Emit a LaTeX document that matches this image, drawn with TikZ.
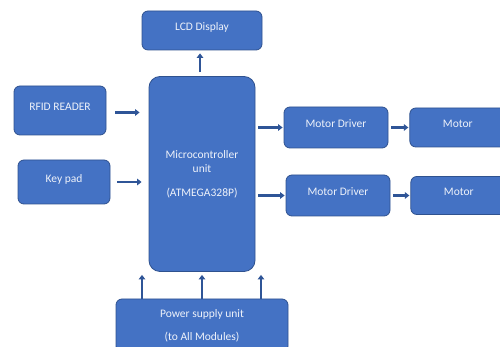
\documentclass[tikz,border=0pt]{standalone}
\usepackage{fontspec}
\setmainfont{Carlito}
\usepackage{xcolor}
\usepackage{tikz}
\usetikzlibrary{arrows.meta,positioning}
\definecolor{boxblue}{HTML}{4472C4}
\definecolor{edgeblue}{HTML}{2F528F}
\definecolor{linkblue}{HTML}{2F5597}
\definecolor{txtwhite}{HTML}{EEF2FA}

\begin{document}
\begin{tikzpicture}[x=1pt, y=1pt, >={Triangle[length=4.5pt,width=6.5pt]},
  block/.style={draw=edgeblue, line width=0.8pt, fill=boxblue, rounded corners=6pt,
    text=txtwhite, font=\fontsize{11.5}{14}\selectfont, align=center, inner sep=0pt},
  oneline/.style={block, text height=8pt, text depth=7pt},
  link/.style={->, draw=linkblue, line width=2.8pt}]
  \useasboundingbox (0,0) rectangle (500,347);
  \node[block, minimum width=106pt, minimum height=195pt, rounded corners=11pt] (mcu) at (202,173)
    {Microcontroller\\unit\\[10pt](ATMEGA328P)};
  \node[oneline, minimum width=120pt, minimum height=39pt] (lcd) at (202,316.5) {LCD Display};
  \node[block, minimum width=172pt, minimum height=53pt] (power) at (202,21.5)
    {Power supply unit\\[9pt](to All Modules)};
  \node[oneline, minimum width=92pt, minimum height=49pt] (rfid) at (60,236.5) {RFID READER};
  \node[oneline, minimum width=92pt, minimum height=44pt] (keypad) at (64,165) {Key pad};
  \node[oneline, minimum width=104pt, minimum height=41pt] (drv1) at (336,219.5) {Motor Driver};
  \node[oneline, minimum width=96pt, minimum height=39pt, right=21pt of drv1] (mot1) {Motor};
  \node[oneline, minimum width=104pt, minimum height=41pt] (drv2) at (338,151.5) {Motor Driver};
  \node[oneline, minimum width=96pt, minimum height=38pt, right=20pt of drv2] (mot2) {Motor};

  \draw[link, shorten <=4pt, shorten >=3pt] ([xshift=-2pt]mcu.north) -- ([xshift=-2pt]lcd.south);
  \draw[link, shorten <=9pt, shorten >=9pt] ([yshift=-2pt]rfid.east) -- ([yshift=-2pt]rfid.east -| mcu.west);
  \draw[link, shorten <=7pt, shorten >=7pt] (keypad.east) -- (keypad.east -| mcu.west);
  \draw[link, shorten <=3pt, shorten >=1pt] (drv1.west -| mcu.east) -- (drv1.west);
  \draw[link, shorten <=3pt, shorten >=1pt] (drv2.west -| mcu.east) -- (drv2.west);
  \draw[link, shorten <=3pt, shorten >=1pt] (drv1.east) -- (drv1.east -| mot1.west);
  \draw[link, shorten <=3pt, shorten >=1pt] (drv2.east) -- (drv2.east -| mot2.west);
  \draw[link, shorten >=3pt] ([xshift=-60pt]power.north) -- ([xshift=-60pt]power.north |- mcu.south);
  \draw[link, shorten >=3pt] (power.north) -- (power.north |- mcu.south);
  \draw[link, shorten >=3pt] ([xshift=59pt]power.north) -- ([xshift=59pt]power.north |- mcu.south);
\end{tikzpicture}
\end{document}
